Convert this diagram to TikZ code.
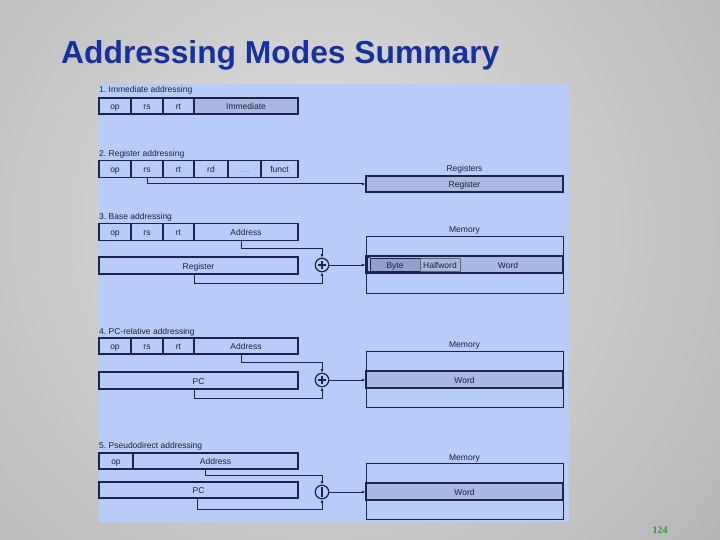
\documentclass[tikz,border=0pt]{standalone}
\usepackage{fontspec}
\setmainfont{Liberation Sans}
\newfontfamily\numfont{Liberation Serif}
\usetikzlibrary{arrows.meta}
\frenchspacing
\definecolor{bgin}{RGB}{224,224,224}
\definecolor{bgout}{RGB}{150,150,150}
\definecolor{pan}{RGB}{184,204,250}
\definecolor{pdark}{RGB}{168,184,226}
\definecolor{pbyte}{RGB}{146,160,206}
\definecolor{lnc}{RGB}{26,36,72}
\definecolor{txc}{RGB}{30,30,58}
\definecolor{titc}{RGB}{22,48,160}
\definecolor{numc}{RGB}{44,150,40}
\newcommand{\fs}{\fontsize{8.5}{9}\selectfont}
\tikzset{
  ln/.style={draw=lnc, line width=1.2pt},
  ctext/.style={text height=7pt, text depth=0pt},
  fld/.style={ln, fill=pan, inner sep=0pt, minimum height=16pt, font=\fs, text=txc, ctext},
  dfld/.style={fld, fill=pdark},
  lbl/.style={font=\fs, text=txc, anchor=base west, inner sep=0pt},
  clbl/.style={font=\fs, text=txc, anchor=base, inner sep=0pt},
  arr/.style={draw=lnc, line width=1pt, -{Latex[length=3.5pt,width=3pt]}},
  adder/.style={circle, ln, fill=pan, minimum size=13.5pt, inner sep=0pt},
  memout/.style={draw=lnc, line width=0.9pt, fill=pan, inner sep=0pt, minimum width=197pt},
  memrow/.style={ln, fill=pdark, inner sep=0pt, minimum width=197pt, minimum height=17pt, font=\fs, text=txc, ctext}
}
\begin{document}
\begin{tikzpicture}[x=1pt,y=-1pt]
\useasboundingbox (0,0) rectangle (720,540);
% background
\begin{scope}
\clip (0,0) rectangle (720,540);
\shade[inner color=bgin, outer color=bgout] (320,230) circle (900pt);
\end{scope}
% title
\node[anchor=base west, inner sep=0pt, font=\fontsize{31.8}{34}\selectfont\bfseries, text=titc] (title) at (61,64) {Addressing Modes Summary};
\node[anchor=base, inner sep=0pt, font=\numfont\fontsize{10}{12}\selectfont\bfseries, text=numc] (pg) at (660,533) {124};
% panel
\fill[pan] (99,84) rectangle (569,522);

% ---------- 1. Immediate
\node[lbl] (t1) at (99,93) {1. Immediate addressing};
\node[fld, minimum width=32pt] (r1op) at (115,106) {op};
\node[fld, minimum width=32pt] (r1rs) at (147,106) {rs};
\node[fld, minimum width=31pt] (r1rt) at (178.5,106) {rt};
\node[dfld, minimum width=104pt] (r1im) at (246,106) {Immediate};

% ---------- 2. Register
\node[lbl] (t2) at (99,157) {2. Register addressing};
\node[fld, minimum width=32pt, minimum height=17pt] (r2op) at (115,169) {op};
\node[fld, minimum width=32pt, minimum height=17pt] (r2rs) at (147,169) {rs};
\node[fld, minimum width=31pt, minimum height=17pt] (r2rt) at (178.5,169) {rt};
\node[fld, minimum width=34pt, minimum height=17pt] (r2rd) at (211,169) {rd};
\node[fld, minimum width=33pt, minimum height=17pt] (r2dots) at (244.5,169) {\textcolor{gray}{.\,.\,.}};
\node[fld, minimum width=37pt, minimum height=17pt] (r2fn) at (279.5,169) {funct};
\node[clbl] (regs) at (464.5,172) {Registers};
\node[memrow, minimum height=16pt] (reg2) at (464.5,184) {Register};
\draw[arr] (r2rs.south) |- (reg2.west);

% ---------- 3. Base
\node[lbl] (t3) at (99,219) {3. Base addressing};
\node[fld, minimum width=32pt, minimum height=17pt] (r3op) at (115,232) {op};
\node[fld, minimum width=32pt, minimum height=17pt] (r3rs) at (147,232) {rs};
\node[fld, minimum width=31pt, minimum height=17pt] (r3rt) at (178.5,232) {rt};
\node[fld, minimum width=104pt, minimum height=17pt] (r3ad) at (246,232) {Address};
\node[fld, minimum width=199pt, minimum height=17pt] (r3reg) at (198.5,265.5) {Register};
\node[adder] (add3) at (322,265) {};
\node[clbl] (m3l) at (464.5,233) {Memory};
\node[memout, minimum height=57pt] (mem3) at (464.5,264.5) {};
\node[memrow] (m3w) at (464.5,264.5) {};
\node[draw=lnc, line width=0.7pt, fill=pbyte, minimum width=50pt, minimum height=13pt, inner sep=0pt, font=\fs, text=txc, ctext] (byte) at (395,264.5) {Byte};
\node[draw=lnc!70, line width=0.7pt, fill=pdark, minimum width=40pt, minimum height=13pt, inner sep=0pt, font=\fs, text=txc, ctext] (half) at (440,264.5) {Halfword};
\node[font=\fs, text=txc, inner sep=0pt, ctext] (word3) at (508,264.5) {Word};
\draw[draw=lnc, line width=0.7pt] (369.5,257.5) -- (367.5,257.5) -- (367.5,271.5) -- (369.5,271.5);
\draw[arr] ([xshift=-5pt]r3ad.south) -- ++(0,7) -| (add3.north);
\draw[arr] ([xshift=-4.5pt]r3reg.south) -- ++(0,9) -| (add3.south);
\draw[arr] (add3.east) -- (add3.east -| m3w.west);

% ---------- 4. PC-relative
\node[lbl] (t4) at (99,334) {4. PC-relative addressing};
\node[fld, minimum width=32pt] (r4op) at (115,346) {op};
\node[fld, minimum width=32pt] (r4rs) at (147,346) {rs};
\node[fld, minimum width=31pt] (r4rt) at (178.5,346) {rt};
\node[fld, minimum width=104pt] (r4ad) at (246,346) {Address};
\node[fld, minimum width=199pt, minimum height=17pt] (r4pc) at (198.5,380.5) {PC};
\node[adder] (add4) at (322,380) {};
\node[clbl] (m4l) at (464.5,347) {Memory};
\node[memout, minimum height=56pt] (mem4) at (464.5,379) {};
\node[memrow] (m4w) at (464.5,379.5) {Word};
\draw[arr] ([xshift=-5pt]r4ad.south) -- ++(0,8) -| (add4.north);
\draw[arr] ([xshift=-4.5pt]r4pc.south) -- ++(0,9) -| (add4.south);
\draw[arr] (add4.east) -- (add4.east -| m4w.west);

% plus signs in adders
\foreach \a in {add3,add4}{
  \draw[draw=lnc, line width=1.1pt] ([xshift=-3.6pt]\a.center) -- ([xshift=3.6pt]\a.center);
  \draw[draw=lnc, line width=1.1pt] ([yshift=-3.6pt]\a.center) -- ([yshift=3.6pt]\a.center);
}

% ---------- 5. Pseudodirect
\node[lbl] (t5) at (99,448) {5. Pseudodirect addressing};
\node[fld, minimum width=34pt] (r5op) at (116,461) {op};
\node[fld, minimum width=165pt] (r5ad) at (215.5,461) {Address};
\node[fld, minimum width=199pt] (r5pc) at (198.5,490) {PC};
\node[adder] (add5) at (322,492) {};
\draw[draw=lnc, line width=1.6pt] ([yshift=-2.2pt]add5.north) -- ([yshift=2.2pt]add5.south);
\node[clbl] (m5l) at (464.5,460) {Memory};
\node[memout, minimum height=56pt] (mem5) at (464.5,491) {};
\node[memrow] (m5w) at (464.5,491.5) {Word};
\draw[arr] ([xshift=-10.5pt]r5ad.south) -- ++(0,6) -| (add5.north);
\draw[arr] ([xshift=-1.5pt]r5pc.south) -- ++(0,11) -| (add5.south);
\draw[arr] (add5.east) -- (add5.east -| m5w.west);
\end{tikzpicture}
\end{document}
